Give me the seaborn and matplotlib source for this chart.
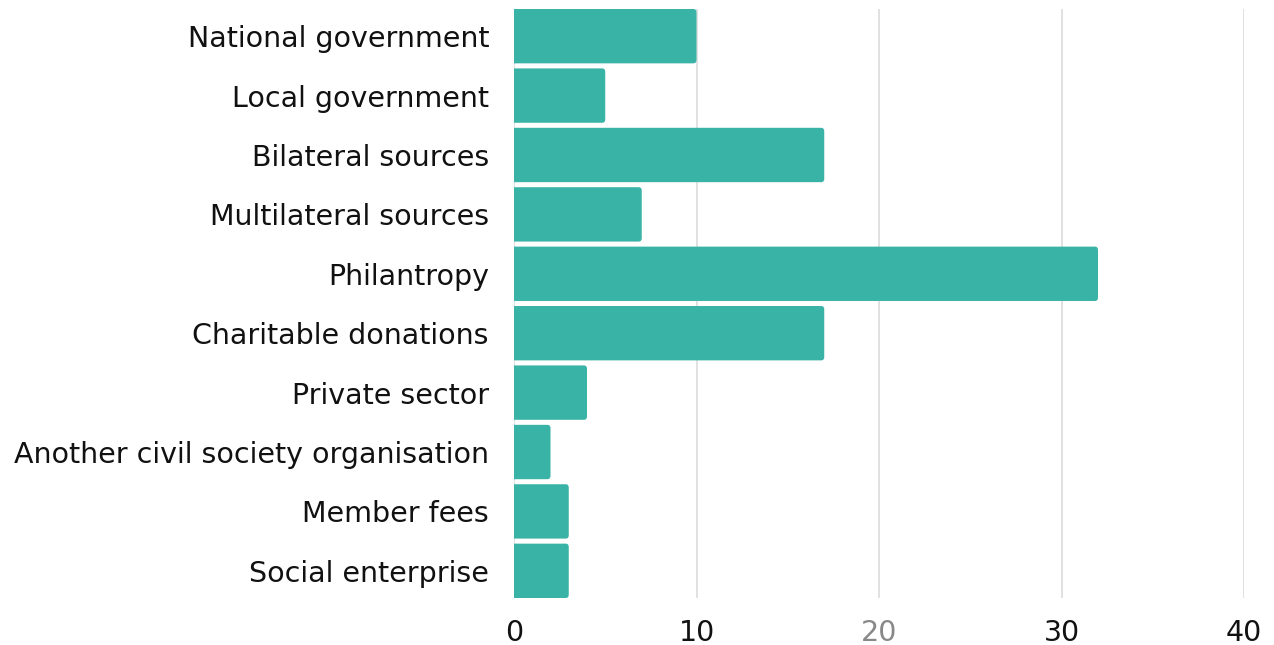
import matplotlib
matplotlib.use("Agg")
import matplotlib.pyplot as plt
import seaborn as sns
import pandas as pd
from matplotlib.patches import FancyBboxPatch

categories = ["National government", "Local government", "Bilateral sources",
              "Multilateral sources", "Philantropy", "Charitable donations",
              "Private sector", "Another civil society organisation",
              "Member fees", "Social enterprise"]
values = [10, 5, 17, 7, 32, 17, 4, 2, 3, 3]
x_ticks = [0, 10, 20, 30, 40]

sns.set_theme(style="white")
plt.rcParams['font.family'] = ['DejaVu Sans']

df = pd.DataFrame({"category": categories, "value": values})

fig = plt.figure(figsize=(12.74, 6.45), dpi=100)
ax = fig.add_axes([514/1274, 1 - 598/645, (1244-514)/1274, (598-9)/645])

bw = 0.915
sns.barplot(data=df, x="value", y="category", orient="h", color="#39B3A5",
            saturation=1, width=bw, ax=ax, zorder=3)

# replace bars by rounded ones (left edge hidden behind the axis)
for p in list(ax.patches):
    x0, y0 = p.get_x(), p.get_y()
    w, h = p.get_width(), p.get_height()
    fb = FancyBboxPatch((x0 - 0.5, y0), w + 0.5, h,
                        boxstyle="round,pad=0,rounding_size=0.17",
                        mutation_aspect=0.32, facecolor="#39B3A5",
                        edgecolor="none", zorder=3, clip_on=True)
    p.remove()
    ax.add_patch(fb)

ax.set_xlim(0, 40)
ax.set_ylim(len(categories) - 1 + bw / 2, -bw / 2)
ax.set_xticks(x_ticks)
ax.set_xticklabels([str(t) for t in x_ticks])
ax.xaxis.grid(True, color="#dcdcdc", linewidth=1.2, zorder=0)
ax.set_axisbelow(True)
for s in ax.spines.values():
    s.set_visible(False)
ax.tick_params(axis="both", length=0, labelsize=20.5, colors="#111111")
ax.tick_params(axis="y", pad=18)
ax.tick_params(axis="x", pad=15)
for lbl in ax.get_xticklabels():
    if lbl.get_text() == "20":
        lbl.set_color("#888888")
ax.set_xlabel("")
ax.set_ylabel("")

fig.savefig("out.png", dpi=100)
